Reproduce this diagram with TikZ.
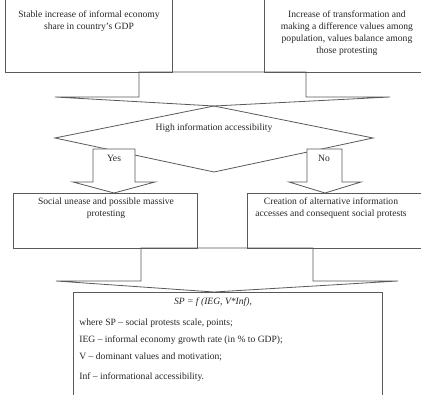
\documentclass[tikz,border=0pt]{standalone}
\usepackage{fontspec}
\setmainfont{Liberation Serif}
\begin{document}
\tikzset{every picture/.style={line width=0.6pt}}
\tikzset{flowtxt/.style={font=\fontsize{7.2}{9}\selectfont, text=black!85, align=center, inner sep=0pt}}
\tikzset{flowline/.style={draw=black!65}}

\begin{tikzpicture}[x=0.75pt,y=0.75pt,yscale=-1,xscale=1]
\useasboundingbox (0,0) rectangle (421,395);
\clip (0,0) rectangle (421,395);

%Shape: Rectangle [id:gdpbox] 
\draw [flowline] (5,-5) -- (172,-5) -- (172,72) -- (5,72) -- cycle ;
%Shape: Rectangle [id:valuesbox] 
\draw [flowline] (264,-5) -- (430,-5) -- (430,72) -- (264,72) -- cycle ;
%Shape: Merge Arrow [id:mergetop] 
\draw [flowline] (139,72) -- (139,97) -- (55,97) -- (214,106) -- (390,97) -- (306,97) -- (306,72) -- cycle ;
%Shape: Diamond [id:accessdiamond] 
\draw [flowline] (214,106) -- (373,138) -- (214,172) -- (55,138) -- cycle ;
%Shape: Down Arrow [id:yesarrow] 
\draw [flowline, fill=white] (93,149) -- (135,149) -- (135,182) -- (155,182) -- (114,193) -- (73,182) -- (93,182) -- cycle ;
%Shape: Down Arrow [id:noarrow] 
\draw [flowline, fill=white] (307,149) -- (342,149) -- (342,182) -- (361,182) -- (325,193) -- (289,182) -- (307,182) -- cycle ;
%Shape: Rectangle [id:uneasebox] 
\draw [flowline] (13,193) -- (197,193) -- (197,248) -- (13,248) -- cycle ;
%Shape: Rectangle [id:alternbox] 
\draw [flowline] (247,193) -- (430,193) -- (430,248) -- (247,248) -- cycle ;
%Shape: Merge Arrow [id:mergebottom] 
\draw [flowline] (141,248) -- (141,281) -- (56,281) -- (214,292) -- (398,281) -- (313,281) -- (313,248) -- cycle ;
%Shape: Rectangle [id:formulabox] 
\draw [flowline] (73,400) -- (73,292) -- (382,292) -- (382,400) ;

% Text Node
\node [flowtxt] (gdp) at (89,21) {Stable increase of informal economy\\share in country's GDP};
% Text Node
\node [flowtxt] (values) at (347,33) {Increase of transformation and\\making a difference values among\\population, values balance among\\those protesting};
% Text Node
\node [flowtxt] (access) at (214,128) {High information accessibility};
% Text Node
\node [flowtxt] (yes) at (114,158) {Yes};
% Text Node
\node [flowtxt] (no) at (324,158) {No};
% Text Node
\node [flowtxt] (unease) at (106,208.5) {Social unease and possible massive\\protesting};
% Text Node
\node [flowtxt] (altern) at (331,208.5) {Creation of alternative information\\accesses and consequent social protests};
% Text Node
\node [flowtxt] (formula) at (213,302) {\itshape SP = f (IEG, V*Inf),};
% Text Node
\node [flowtxt, anchor=west] (wheresp) at (79,323) {where SP -- social protests scale, points;};
% Text Node
\node [flowtxt, anchor=west] (ieg) at (79,340) {IEG -- informal economy growth rate (in \% to GDP);};
% Text Node
\node [flowtxt, anchor=west] (vals) at (79,357) {V -- dominant values and motivation;};
% Text Node
\node [flowtxt, anchor=west] (inf) at (79,377) {Inf -- informational accessibility.};

\end{tikzpicture}
\end{document}
